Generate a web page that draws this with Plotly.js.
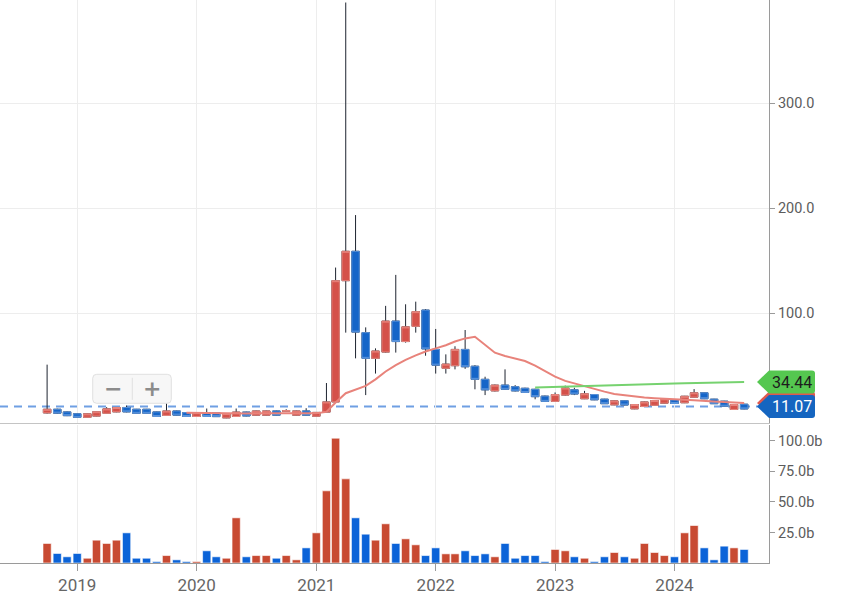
<!DOCTYPE html>
<html><head><meta charset="utf-8">
<script src="https://cdn.plot.ly/plotly-3.0.1.min.js"></script>
<style>html,body{margin:0;padding:0;background:#fff;}#chart{width:846px;height:607px;}</style>
</head><body><div id="chart"></div>
<script>
const months = [
 '2018-10','2018-11','2018-12',
 '2019-01','2019-02','2019-03','2019-04','2019-05','2019-06','2019-07','2019-08','2019-09','2019-10','2019-11','2019-12',
 '2020-01','2020-02','2020-03','2020-04','2020-05','2020-06','2020-07','2020-08','2020-09','2020-10','2020-11','2020-12',
 '2021-01','2021-02','2021-03','2021-04','2021-05','2021-06','2021-07','2021-08','2021-09','2021-10','2021-11','2021-12',
 '2022-01','2022-02','2022-03','2022-04','2022-05','2022-06','2022-07','2022-08','2022-09','2022-10','2022-11','2022-12',
 '2023-01','2023-02','2023-03','2023-04','2023-05','2023-06','2023-07','2023-08','2023-09','2023-10','2023-11','2023-12',
 '2024-01','2024-02','2024-03','2024-04','2024-05','2024-06','2024-07','2024-08'];

const openP = [5,8.5,6,
 4.2,0.8,2,4.6,6,10.2,8.5,8.5,6,2.6,6.9,5.3,
 1.6,5.3,5.3,0.3,1.6,5.8,2.9,2.9,6.9,6.6,2.9,6.9,
 1.8,5.8,15.5,131,159,81.5,57,63,92.5,73,87.5,103,
 65.5,47.5,50,65.5,49.5,37,26,31.5,30,28.5,27.5,21,
 16,22,27,18.5,22.5,18.1,12.7,16.6,8.9,11.1,12.2,14.3,
 17.5,14.7,20,24.2,18.1,16.2,8.3,13.3];
const highP = [51,9,6.5,
 4.6,4.6,6.6,10.5,10.6,12,8.8,8.8,6.3,14.5,7.2,5.6,
 5.6,9.2,5.6,4.7,9.2,6.1,7.2,7.2,7.2,8.5,7.2,9.5,
 5.8,33.5,143.5,396,193.5,86.5,66.5,107,136.5,108.5,111,104,
 85,60.8,68.5,84,50.5,39.5,32,46.5,31.5,29,28,21.5,
 24.5,31,29,26,22.8,18.4,16.8,16.9,13.3,15.8,17.1,18.8,
 17.8,21.2,27.7,24.5,18.4,16.5,13.3,13.6];
const lowP = [4.5,4.2,2,
 0.4,0.5,1.8,4.3,5.7,5.6,4.2,4.2,1.3,2.3,2.6,1.3,
 1.3,1.3,1.2,0,1.3,1.8,2.6,2.6,2.6,6.2,2.6,2.6,
 1.5,5.5,15.2,81.5,57,22,42.5,62.5,62.5,72,81.5,59.5,
 42.5,42.5,46.5,47,27.5,22,25.5,27,25.5,24,18,15.5,
 15.5,21.5,22,18.2,17.2,13.5,12.4,12.2,8.6,10.8,11.9,14,
 13.7,14.4,19.7,18.2,13.5,11.1,8,8.5];
const closeP = [8.5,4.8,2.4,
 0.8,4.2,6.2,8.9,10.2,6,4.6,4.6,1.6,6.9,2.9,1.6,
 5.3,1.6,1.5,4.4,5.8,2.1,6.9,6.9,2.9,7.1,6.9,2.9,
 5.5,15.5,131,159,82,57,64,92.5,73,87,101.5,66,
 50.5,51.5,65.5,49,37,27,31.5,27.5,26,24.5,20.5,16,
 22.5,28.8,23,23.3,17.5,13.8,16.5,12.5,13,15.5,16.8,18.5,
 14,20.9,24.2,18.5,13.8,11.4,13,8.8];
// volume in billions
const volume = [16,7.8,5.1,
 7.8,3.9,18.7,16,18.7,24.7,3.9,3.9,1.2,6.1,2.6,1.2,
 1.2,10,5.1,3.9,37,5.1,6.1,6.1,3.9,6.1,2.6,12.4,
 24.7,59.1,102.2,68.9,37,23.6,18.7,32.1,16,19.8,14.9,6.1,
 12.4,7.5,7.5,10,6.1,7.5,5.1,16,3.9,6.1,6.1,1.2,
 11.1,10,5.1,3.9,1.2,5.1,8.6,5.1,3.9,16,8.6,6.1,
 5.1,24.7,30.7,12.4,2.6,13.8,12.4,11.1];
// short moving average, from 2019-12
const maShort = [5.2,
 5.0,4.9,4.7,4.5,4.5,4.4,4.6,4.7,4.6,4.8,4.9,4.8,
 4.8,6.0,15.0,23.8,27.6,30.8,37.0,44.5,50.5,55.5,59.8,63.5,
 66.5,69.5,73.0,76.0,77.6,70.0,62.4,59.2,56.8,54.5,50.0,45.0,
 39.5,35.5,33.0,30.5,27.8,25.3,23.0,21.8,20.7,19.7,19.0,18.3,
 17.8,17.5,17.2,16.9,16.0,15.3,14.8,14.4];
const maShortStart = 14;
// long moving average, from 2022-11
const maLong = [29.3,29.6,
 29.9,30.3,30.6,30.9,31.2,31.4,31.7,31.9,32.1,32.4,32.6,32.8,
 33.0,33.3,33.5,33.7,33.9,34.1,34.3,34.44];
const maLongStart = 49;
const lastPrice = 11.07;
const priceTicks = [100,200,300];
const priceTickText = ['100.0','200.0','300.0'];
const volTicks = [25,50,75,100];
const volTickText = ['25.0b','50.0b','75.0b','100.0b'];

const RED = '#d4514a', RED_EDGE = '#e8877f';
const BLUE = '#1565c8', BLUE_EDGE = '#5b94dc';
const WICK = '#1e2430';

const bodyHigh = openP.map((o,i)=>Math.max(o,closeP[i]));
const bodyLow = openP.map((o,i)=>Math.min(o,closeP[i]));
const volColors = openP.map((o,i)=> closeP[i] >= o ? '#c84a32' : '#0b63d8');

const traces = [
 {type:'candlestick', x:months, open:openP, high:highP, low:lowP, close:closeP,
  xaxis:'x', yaxis:'y', whiskerwidth:0, hoverinfo:'skip',
  increasing:{line:{color:WICK,width:1}, fillcolor:WICK},
  decreasing:{line:{color:WICK,width:1}, fillcolor:WICK}},
 {type:'candlestick', x:months, open:openP, high:bodyHigh, low:bodyLow, close:closeP,
  xaxis:'x', yaxis:'y', whiskerwidth:0, hoverinfo:'skip',
  increasing:{line:{color:RED_EDGE,width:1}, fillcolor:RED},
  decreasing:{line:{color:BLUE_EDGE,width:1}, fillcolor:BLUE}},
 {type:'scatter', mode:'lines', x:months.slice(maShortStart), y:maShort, xaxis:'x', yaxis:'y',
  line:{color:'#e8837b', width:2}, hoverinfo:'skip'},
 {type:'scatter', mode:'lines', x:months.slice(maLongStart), y:maLong, xaxis:'x', yaxis:'y',
  line:{color:'#76d26f', width:2}, hoverinfo:'skip'},
 {type:'bar', x:months, y:volume, xaxis:'x2', yaxis:'y2', hoverinfo:'skip',
  marker:{color:volColors, line:{color:'rgba(255,255,255,0.6)', width:1}}}
];

const tagPath = 'M-12,0 L0,11.5 L43,11.5 Q46,11.5 46,8.5 L46,-8.5 Q46,-11.5 43,-11.5 L0,-11.5 Z';
function tag(yval, fill){
 return {type:'path', xref:'paper', yref:'y', xsizemode:'pixel', ysizemode:'pixel',
  xanchor:1, yanchor:yval, path:tagPath, fillcolor:fill, line:{width:0}, layer:'above'};
}
const tickFont = {family:'Roboto', size:14.5, color:'#5c5c5c'};
const xRange = ['2018-05-10','2024-10-16'];

const layout = {
 width:846, height:607, margin:{l:0,r:77,t:0,b:44},
 paper_bgcolor:'#ffffff', plot_bgcolor:'#ffffff', showlegend:false,
 font:{family:'Roboto'}, boxgap:0.18, boxgroupgap:0, bargap:0.1, hovermode:false,
 xaxis:{domain:[0,1], anchor:'y', type:'date', range:xRange, showticklabels:false, ticks:'',
  dtick:'M12', tick0:'2019-01-01', showgrid:true, gridcolor:'#ededed', showline:true,
  linecolor:'#c4c4c4', linewidth:1, zeroline:false, rangeslider:{visible:false}},
 yaxis:{domain:[0.248,1], anchor:'x', side:'right', range:[-4.95,398.4], tickvals:priceTicks,
  ticktext:priceTickText, ticks:'outside', ticklen:5, tickcolor:'#9a9a9a', showline:true,
  linecolor:'#9a9a9a', gridcolor:'#ededed', zeroline:false, tickfont:tickFont},
 xaxis2:{domain:[0,1], anchor:'y2', matches:'x', type:'date', range:xRange, dtick:'M12',
  tick0:'2019-01-01', tickformat:'%Y', ticks:'outside', ticklen:7, tickcolor:'#9a9a9a',
  showline:true, linecolor:'#9a9a9a', showgrid:true, gridcolor:'#ededed', zeroline:false,
  tickfont:{family:'Roboto', size:17, color:'#666666'}, rangeslider:{visible:false}},
 yaxis2:{domain:[0,0.246], anchor:'x2', side:'right', range:[0,113.4], tickvals:volTicks,
  ticktext:volTickText, ticks:'outside', ticklen:5, tickcolor:'#9a9a9a', showline:true,
  linecolor:'#9a9a9a', showgrid:false, zeroline:false, tickfont:tickFont},
 shapes:[
  {type:'line', xref:'paper', yref:'y', x0:0, x1:1, y0:lastPrice, y1:lastPrice,
   line:{color:'#6f9fe3', width:2, dash:'8px,6px'}, layer:'below'},
  tag(maShort[maShort.length-1], '#e0594f'),
  tag(lastPrice, '#1565c0'),
  tag(maLong[maLong.length-1], '#55c750'),
  {type:'path', xref:'paper', yref:'paper', xsizemode:'pixel', ysizemode:'pixel',
   xanchor:132/769, yanchor:(563-388.8)/563,
   path:'M-35.3,-14.5 L35.3,-14.5 Q39.3,-14.5 39.3,-10.5 L39.3,10.5 Q39.3,14.5 35.3,14.5 L-35.3,14.5 Q-39.3,14.5 -39.3,10.5 L-39.3,-10.5 Q-39.3,-14.5 -35.3,-14.5 Z',
   fillcolor:'#f7f7f7', line:{color:'#e0e0e0', width:1}, layer:'above'},
  {type:'line', xref:'paper', yref:'paper', xsizemode:'pixel', ysizemode:'pixel',
   xanchor:132.3/769, yanchor:(563-388.8)/563, x0:0, x1:0, y0:-11, y1:11,
   line:{color:'#e0e0e0', width:1}, layer:'above'}
 ],
 annotations:[
  {xref:'paper', yref:'y', x:1, xshift:23, y:maLong[maLong.length-1], xanchor:'center', yanchor:'middle',
   text:maLong[maLong.length-1].toFixed(2), showarrow:false, font:{family:'Roboto', size:16, color:'#1d1d1d'}},
  {xref:'paper', yref:'y', x:1, xshift:23, y:lastPrice, xanchor:'center', yanchor:'middle',
   text:lastPrice.toFixed(2), showarrow:false, font:{family:'Roboto', size:16, color:'#ffffff'}},
  {xref:'paper', yref:'paper', x:112.7/769, y:(563-388.3)/563, xanchor:'center', yanchor:'middle',
   text:'<b>−</b>', showarrow:false, font:{family:'DejaVu Sans', size:22, color:'#8c8c8c'}},
  {xref:'paper', yref:'paper', x:151.7/769, y:(563-388.3)/563, xanchor:'center', yanchor:'middle',
   text:'<b>+</b>', showarrow:false, font:{family:'DejaVu Sans', size:22, color:'#8c8c8c'}}
 ]
};
Plotly.newPlot('chart', traces, layout, {displayModeBar:false, staticPlot:true});
</script></body></html>
